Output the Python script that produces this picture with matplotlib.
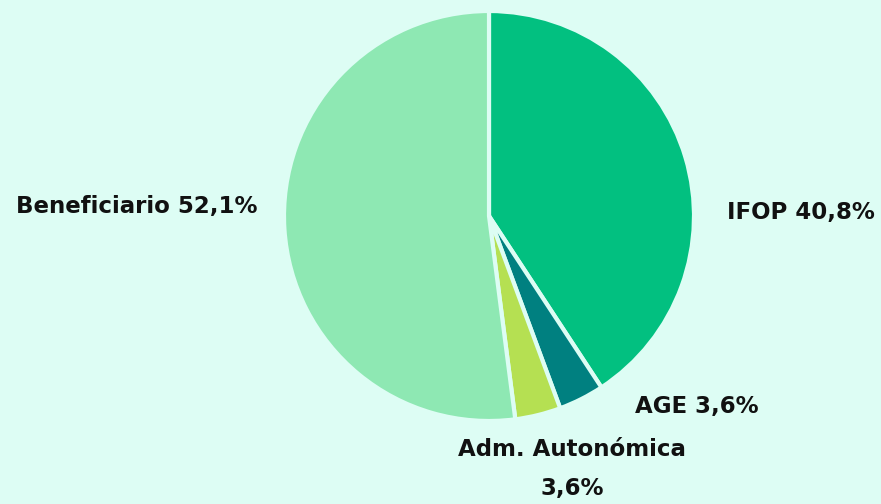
import matplotlib
matplotlib.use("Agg")
import matplotlib.pyplot as plt

categories = ["IFOP", "AGE", "Adm. Autonómica", "Beneficiario"]
values = [40.8, 3.6, 3.6, 52.1]
labels = ["IFOP 40,8%", "AGE 3,6%", "Adm. Autonómica\n3,6%", "Beneficiario 52,1%"]
colors = ["#02c080", "#008080", "#b5e052", "#8ee8b3"]
bg = "#ddfdf4"

W, H = 881, 504
fig = plt.figure(figsize=(W / 100, H / 100), dpi=100, facecolor=bg)
ax = fig.add_axes([0, 0, 1, 1])
ax.set_facecolor(bg)

cx, cy, r = 489, H - 216, 205
ax.pie(values, colors=colors, startangle=90, counterclock=False,
       center=(cx, cy), radius=r, frame=True,
       wedgeprops=dict(edgecolor=bg, linewidth=3))
ax.set_xlim(0, W)
ax.set_ylim(0, H)
ax.set_aspect("equal")
ax.axis("off")

label_pos = [(801, 213), (697, 407), (572, 469), (137, 207)]
for lab, (x, y) in zip(labels, label_pos):
    ax.text(x, H - y, lab, ha="center", va="center", fontsize=16.5, fontweight="bold",
            family="DejaVu Sans", color="#111111", linespacing=1.85)

fig.savefig("out.png", dpi=100, facecolor=bg)
